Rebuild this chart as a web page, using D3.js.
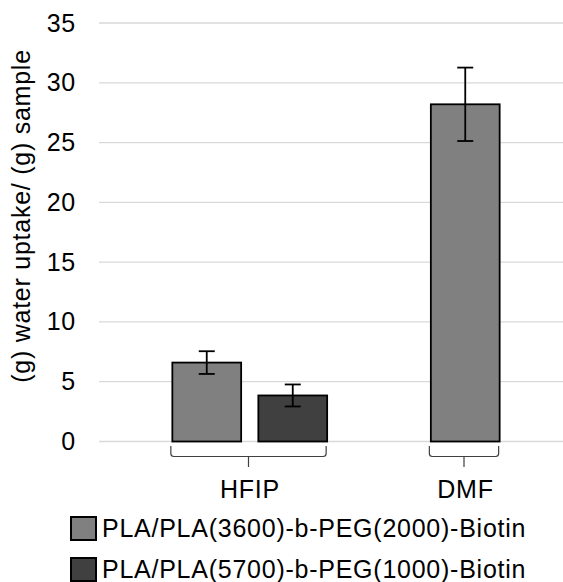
<!DOCTYPE html>
<html>
<head>
<meta charset="utf-8">
<script src="https://cdn.jsdelivr.net/npm/d3@7"></script>
<style>
  html, body { margin: 0; padding: 0; background: #fff; }
  svg { display: block; font-family: "Liberation Sans", Arial, sans-serif; letter-spacing: 0.75px; }
</style>
</head>
<body>
<svg id="chart" width="563" height="582"></svg>
<script>
// Solvent groups and the copolymer blends measured in each
const groups = ["HFIP", "DMF"];
const seriesNames = [
  "PLA/PLA(3600)-b-PEG(2000)-Biotin",
  "PLA/PLA(5700)-b-PEG(1000)-Biotin"
];
const seriesColors = ["#808080", "#404040"];

// Water uptake per group (mean and error), null where not measured
const uptakeMean = [
  [6.6, 3.85],   // HFIP
  [28.2, null]   // DMF
];
const uptakeError = [
  [0.95, 0.92],
  [3.07, null]
];

const yTicks = [0, 5, 10, 15, 20, 25, 30, 35];
const yLabel = "(g) water uptake/ (g) sample";

const svg = d3.select("#chart");
const W = 563;

const y = d3.scaleLinear().domain([0, 35]).range([441.5, 23]);
const plotLeft = 99;

// Group bands; each group's bars are centred in its band
const xGroup = d3.scaleBand().domain(groups).range([142, 573]).padding(0);
const barStep = 86;

const bars = [];
groups.forEach((g, gi) => {
  const present = seriesNames.map((s, si) => si).filter(si => uptakeMean[gi][si] != null);
  const c = xGroup(g) + xGroup.bandwidth() / 2;
  const inner = d3.scaleBand()
    .domain(present)
    .range([c - present.length * barStep / 2, c + present.length * barStep / 2])
    .paddingInner(0.2).paddingOuter(0.1);
  present.forEach(si => {
    bars.push({
      group: g, gi, si,
      x: inner(si), w: inner.bandwidth(),
      value: uptakeMean[gi][si], err: uptakeError[gi][si]
    });
  });
});

// Gridlines
svg.append("g")
  .selectAll("line")
  .data(yTicks)
  .join("line")
  .attr("x1", plotLeft).attr("x2", W)
  .attr("y1", d => y(d)).attr("y2", d => y(d))
  .attr("stroke", "#d9d9d9").attr("stroke-width", 1.3);

// Y axis tick labels
const yAxis = d3.axisLeft(y).tickValues(yTicks).tickSize(0).tickPadding(0);
const yAxisG = svg.append("g").attr("transform", "translate(76,0)").call(yAxis);
yAxisG.select(".domain").remove();
yAxisG.selectAll("text")
  .attr("font-size", 25)
  .attr("font-family", "Liberation Sans, Arial, sans-serif")
  .attr("fill", "#000");

// Y axis title
svg.append("text")
  .attr("transform", "translate(30,216) rotate(-90)")
  .attr("text-anchor", "middle")
  .attr("font-size", 25)
  .attr("fill", "#000")
  .text(yLabel);

// Bars
svg.append("g")
  .selectAll("rect")
  .data(bars)
  .join("rect")
  .attr("x", d => d.x)
  .attr("y", d => y(d.value))
  .attr("width", d => d.w)
  .attr("height", d => y(0) - y(d.value))
  .attr("fill", d => seriesColors[d.si])
  .attr("stroke", "#000")
  .attr("stroke-width", 1.8);

// Error bars
const eb = svg.append("g").attr("stroke", "#000").attr("stroke-width", 1.8);
bars.forEach(d => {
  const cx = d.x + d.w / 2;
  const capW = 8;
  eb.append("line").attr("x1", cx).attr("x2", cx)
    .attr("y1", y(d.value + d.err)).attr("y2", y(d.value - d.err));
  [d.value + d.err, d.value - d.err].forEach(v => {
    eb.append("line").attr("x1", cx - capW).attr("x2", cx + capW)
      .attr("y1", y(v)).attr("y2", y(v));
  });
});

// Group brackets and category labels
groups.forEach(g => {
  const gb = bars.filter(b => b.group === g);
  const x0 = d3.min(gb, b => b.x) - 1.5;
  const x1 = d3.max(gb, b => b.x + b.w) - 1;
  const cx = (x0 + x1) / 2;
  const top = y(0) + 4.5, mid = y(0) + 15, bot = y(0) + 25.5, r = 3;
  const p = d3.path();
  p.moveTo(x0, top);
  p.lineTo(x0, mid - r);
  p.quadraticCurveTo(x0, mid, x0 + r, mid);
  p.lineTo(x1 - r, mid);
  p.quadraticCurveTo(x1, mid, x1, mid - r);
  p.lineTo(x1, top);
  p.moveTo(cx, mid);
  p.lineTo(cx, bot);
  svg.append("path").attr("d", p.toString())
    .attr("fill", "none").attr("stroke", "#404040").attr("stroke-width", 1.2);
  svg.append("text")
    .attr("x", cx + 1.5).attr("y", 497.5)
    .attr("text-anchor", "middle")
    .attr("font-size", 25)
    .attr("fill", "#000")
    .text(g);
});

// Legend
const legend = svg.append("g");
seriesNames.forEach((name, i) => {
  const ly = 517 + i * 41;
  legend.append("rect")
    .attr("x", 71).attr("y", ly)
    .attr("width", 25).attr("height", 23)
    .attr("fill", seriesColors[i])
    .attr("stroke", "#000").attr("stroke-width", 2);
  legend.append("text")
    .attr("x", 102).attr("y", ly + 19.5)
    .attr("font-size", 25)
    .attr("fill", "#000")
    .text(name);
});
</script>
</body>
</html>
